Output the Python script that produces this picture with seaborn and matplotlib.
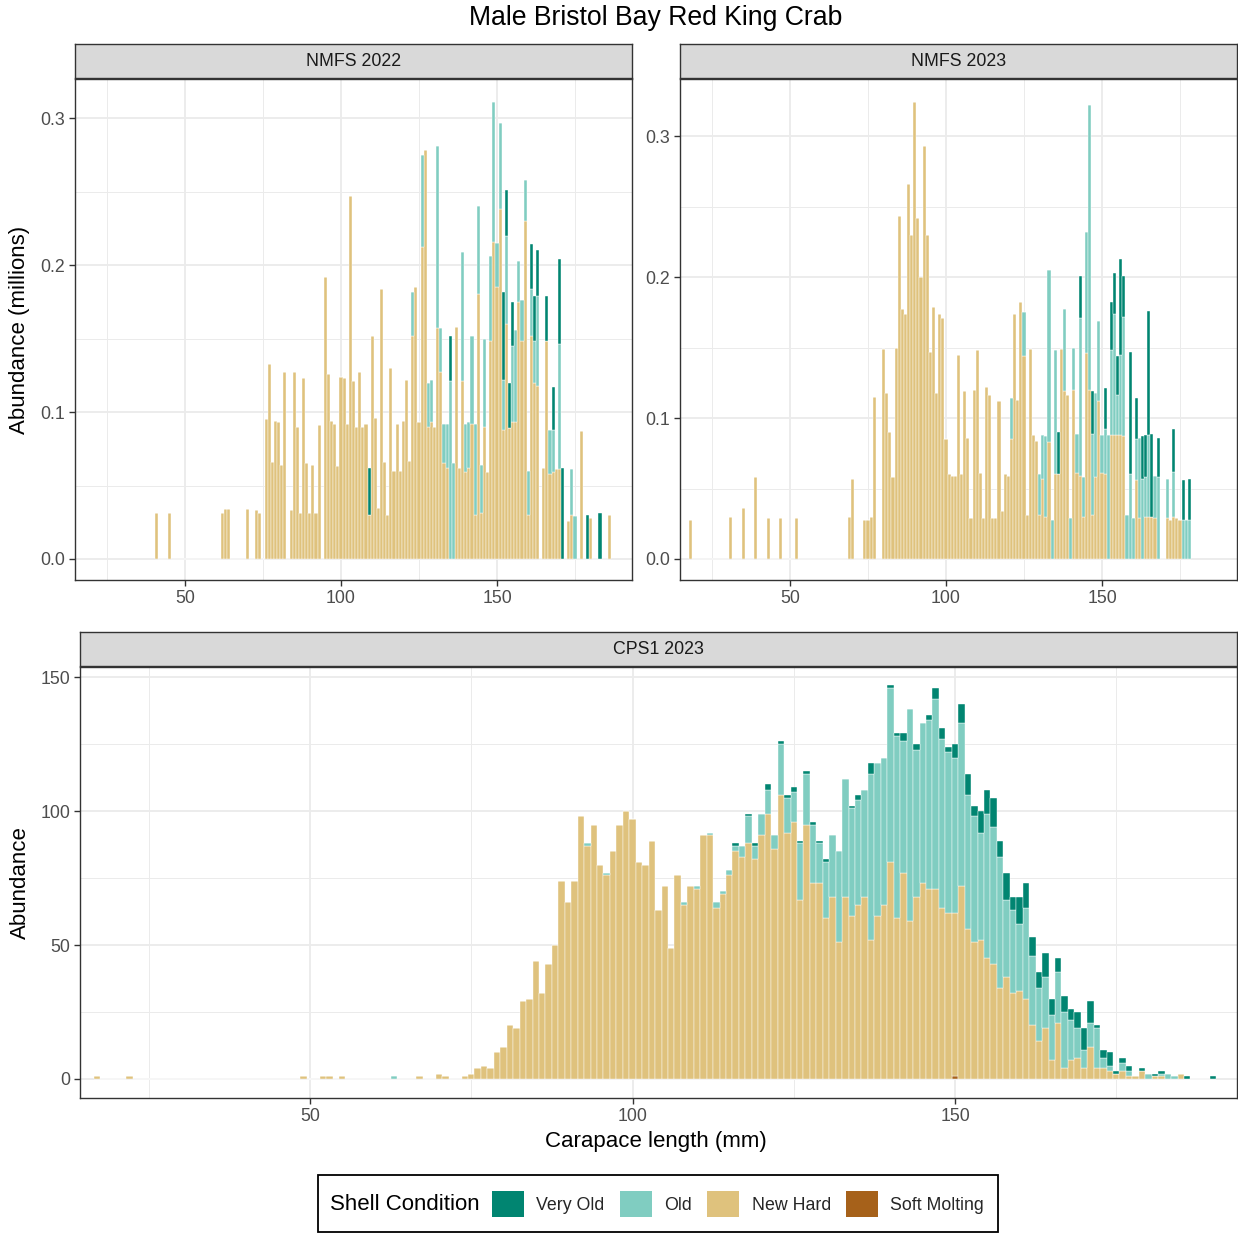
import numpy as np
import pandas as pd
import matplotlib
matplotlib.use("Agg")
import matplotlib.pyplot as plt
from matplotlib.patches import Patch, Rectangle
import seaborn as sns

# ---------------- data ----------------
conditions = ["Very Old", "Old", "New Hard", "Soft Molting"]
colors = ["#018571", "#80cdc1", "#dfc27d", "#a6611a"]

# NMFS 2022 (millions)
n22_len = [41, 45, 62, 63, 64, 70, 73, 74, 76, 77, 78, 79, 80, 81, 82, 84, 85, 86, 87, 88,
           89, 90, 91, 92, 93, 95, 96, 97, 98, 99, 100, 101, 102, 103, 104, 105, 106, 107, 108, 109,
           110, 111, 112, 113, 114, 115, 116, 117, 118, 119, 120, 121, 122, 123, 124, 125, 126, 127, 128, 129,
           130, 131, 132, 133, 134, 135, 136, 137, 138, 139, 140, 141, 142, 143, 144, 145, 146, 147, 148, 149,
           150, 151, 152, 153, 154, 155, 156, 157, 158, 159, 160, 161, 162, 163, 165, 166, 167, 168, 169, 170,
           171, 173, 174, 175, 177, 179, 180, 183, 186]
n22_new = [0.031, 0.031, 0.031, 0.034, 0.034, 0.034, 0.033, 0.031, 0.095, 0.133, 0.066, 0.094, 0.093, 0.064, 0.127, 0.033, 0.127, 0.090, 0.031, 0.123,
           0.065, 0.031, 0.064, 0.031, 0.091, 0.192, 0.126, 0.094, 0.092, 0.063, 0.124, 0.123, 0.092, 0.247, 0.121, 0.090, 0.127, 0.090, 0.092, 0.030,
           0.152, 0.096, 0.035, 0.184, 0.066, 0.030, 0.130, 0.060, 0.092, 0.060, 0.094, 0.122, 0.067, 0.152, 0.185, 0.093, 0.212, 0.278, 0.090, 0.093,
           0.090, 0.157, 0.127, 0.065, 0.062, 0.0, 0.0, 0.158, 0.062, 0.121, 0.059, 0.062, 0.092, 0.030, 0.180, 0.031, 0.090, 0.059, 0.148, 0.216,
           0.185, 0.238, 0.088, 0.160, 0.089, 0.093, 0.093, 0.175, 0.148, 0.230, 0.030, 0.152, 0.120, 0.118, 0.062, 0.148, 0.058, 0.059, 0.061, 0.061,
           0.0, 0.026, 0.030, 0.0, 0.087, 0.0, 0.028, 0.0, 0.030]
n22_old = [0, 0, 0, 0, 0, 0, 0, 0, 0, 0, 0, 0, 0, 0, 0, 0, 0, 0, 0, 0,
           0, 0, 0, 0, 0, 0, 0, 0, 0, 0, 0, 0, 0, 0, 0, 0, 0, 0, 0, 0,
           0, 0, 0, 0, 0, 0, 0, 0, 0, 0, 0, 0, 0, 0.030, 0, 0, 0.063, 0, 0.030, 0.029,
           0, 0.124, 0.030, 0.027, 0.030, 0.121, 0.065, 0, 0, 0.088, 0.033, 0.031, 0.060, 0.062, 0.060, 0.033, 0.060, 0, 0.058, 0.095,
           0.030, 0.059, 0.034, 0.060, 0, 0.052, 0.063, 0.028, 0.028, 0.028, 0.030, 0.032, 0.028, 0.061, 0, 0, 0.030, 0.029, 0, 0.085,
           0, 0, 0.031, 0.029, 0, 0, 0, 0, 0]
n22_vold = [0, 0, 0, 0, 0, 0, 0, 0, 0, 0, 0, 0, 0, 0, 0, 0, 0, 0, 0, 0,
            0, 0, 0, 0, 0, 0, 0, 0, 0, 0, 0, 0, 0, 0, 0, 0, 0, 0, 0, 0.032,
            0, 0, 0, 0, 0, 0, 0, 0, 0, 0, 0, 0, 0, 0, 0, 0, 0, 0, 0, 0,
            0, 0, 0, 0, 0, 0.031, 0, 0, 0, 0, 0, 0, 0, 0, 0, 0, 0, 0, 0, 0,
            0, 0, 0.060, 0.031, 0.031, 0.030, 0, 0, 0, 0, 0, 0.030, 0.031, 0.031, 0, 0.031, 0, 0.029, 0, 0.058,
            0.062, 0, 0, 0, 0, 0.030, 0, 0.031, 0]

# NMFS 2023 (millions)
n23_len = [18, 31, 35, 39, 43, 47, 52, 69, 70, 74, 75, 76, 77, 80, 81, 82, 83, 84, 85, 86,
           87, 88, 89, 90, 91, 92, 93, 94, 95, 96, 97, 98, 99, 100, 101, 102, 103, 104, 105, 106,
           107, 108, 109, 110, 111, 112, 113, 114, 115, 116, 117, 118, 119, 120, 121, 122, 123, 124, 125, 126,
           127, 128, 129, 130, 131, 132, 133, 134, 135, 136, 137, 138, 139, 140, 141, 142, 143, 144, 145, 146,
           147, 148, 149, 150, 151, 152, 153, 154, 155, 156, 157, 158, 159, 160, 161, 162, 163, 164, 165, 166,
           167, 168, 171, 172, 173, 174, 175, 176, 177, 178]
n23_new = [0.028, 0.030, 0.036, 0.058, 0.029, 0.029, 0.029, 0.030, 0.057, 0.028, 0.028, 0.030, 0.115, 0.149, 0.118, 0.090, 0.058, 0.150, 0.243, 0.177,
           0.174, 0.266, 0.230, 0.324, 0.242, 0.200, 0.293, 0.230, 0.147, 0.179, 0.118, 0.174, 0.171, 0.085, 0.060, 0.059, 0.059, 0.145, 0.060, 0.119,
           0.086, 0.029, 0.120, 0.148, 0.061, 0.029, 0.122, 0.116, 0.029, 0.029, 0.112, 0.034, 0.060, 0.059, 0.085, 0.174, 0.113, 0.182, 0.144, 0.031,
           0.149, 0.088, 0.084, 0.031, 0.057, 0.030, 0.083, 0.0, 0.060, 0.060, 0.149, 0.119, 0.116, 0.0, 0.120, 0.061, 0.059, 0.030, 0.146, 0.120,
           0.031, 0.058, 0.112, 0.061, 0.060, 0.0, 0.088, 0.088, 0.088, 0.088, 0.087, 0.0, 0.0, 0.0, 0.056, 0.029, 0.0, 0.030, 0.030, 0.030,
           0.029, 0.0, 0.029, 0.028, 0.030, 0.029, 0.028, 0.0, 0.0, 0.0]
n23_old = [0, 0, 0, 0, 0, 0, 0, 0, 0, 0, 0, 0, 0, 0, 0, 0, 0, 0, 0, 0,
           0, 0, 0, 0, 0, 0, 0, 0, 0, 0, 0, 0, 0, 0, 0, 0, 0, 0, 0, 0,
           0, 0, 0, 0, 0, 0, 0, 0, 0, 0, 0, 0, 0, 0, 0.029, 0, 0, 0, 0.031, 0,
           0, 0, 0, 0.029, 0.031, 0.057, 0.122, 0.028, 0.088, 0, 0, 0.058, 0, 0.029, 0.030, 0.028, 0.112, 0.028, 0.086, 0.202,
           0.058, 0.060, 0.057, 0.027, 0.032, 0.088, 0.060, 0.086, 0.028, 0.057, 0.085, 0.031, 0.060, 0.029, 0.029, 0.057, 0.057, 0.028, 0.058, 0,
           0.030, 0.058, 0.028, 0, 0.032, 0, 0, 0.028, 0.028, 0.028]
n23_vold = [0, 0, 0, 0, 0, 0, 0, 0, 0, 0, 0, 0, 0, 0, 0, 0, 0, 0, 0, 0,
            0, 0, 0, 0, 0, 0, 0, 0, 0, 0, 0, 0, 0, 0, 0, 0, 0, 0, 0, 0,
            0, 0, 0, 0, 0, 0, 0, 0, 0, 0, 0, 0, 0, 0, 0, 0, 0, 0, 0, 0,
            0, 0, 0, 0, 0, 0, 0, 0, 0, 0.030, 0, 0, 0, 0, 0, 0, 0.030, 0, 0, 0,
            0.030, 0, 0, 0, 0.029, 0, 0.034, 0.029, 0.028, 0.068, 0.029, 0, 0.087, 0, 0.029, 0, 0.030, 0.030, 0.088, 0.059,
            0, 0.028, 0, 0, 0.030, 0, 0, 0.028, 0, 0.029]

# CPS1 2023 (numbers)
cps_len = [17, 22, 49, 52, 53, 55, 63, 67, 70, 71, 74, 75, 76, 77, 78, 79, 80, 81, 82, 83,
           84, 85, 86, 87, 88, 89, 90, 91, 92, 93, 94, 95, 96, 97, 98, 99, 100, 101, 102, 103,
           104, 105, 106, 107, 108, 109, 110, 111, 112, 113, 114, 115, 116, 117, 118, 119, 120, 121, 122, 123,
           124, 125, 126, 127, 128, 129, 130, 131, 132, 133, 134, 135, 136, 137, 138, 139, 140, 141, 142, 143,
           144, 145, 146, 147, 148, 149, 150, 151, 152, 153, 154, 155, 156, 157, 158, 159, 160, 161, 162, 163,
           164, 165, 166, 167, 168, 169, 170, 171, 172, 173, 174, 175, 176, 177, 178, 179, 180, 181, 182, 183,
           184, 185, 186, 190]
cps_new = [1, 1, 1, 1, 1, 1, 0, 1, 2, 1, 1, 2, 4, 5, 4, 10, 12, 20, 19, 29,
           30, 44, 32, 43, 50, 74, 66, 74, 98, 87, 95, 80, 76, 85, 95, 100, 97, 81, 80, 89,
           63, 72, 49, 76, 65, 72, 71, 91, 91, 64, 69, 76, 85, 83, 88, 82, 91, 99, 86, 106,
           92, 96, 67, 95, 73, 73, 60, 68, 51, 68, 61, 65, 68, 52, 61, 65, 81, 60, 77, 59,
           68, 73, 71, 71, 64, 62, 61, 72, 56, 51, 52, 45, 43, 34, 38, 32, 33, 30, 20, 14,
           19, 7, 21, 4, 7, 8, 4, 12, 4, 4, 3, 2, 3, 1, 1, 3, 0, 1, 1, 0,
           0, 2, 0, 0]
cps_old = [0, 0, 0, 0, 0, 0, 1, 0, 0, 0, 0, 0, 0, 0, 0, 0, 0, 0, 0, 0,
           0, 0, 0, 0, 0, 0, 0, 0, 0, 1, 0, 0, 1, 0, 0, 0, 0, 0, 0, 0,
           0, 0, 0, 0, 1, 0, 1, 0, 1, 2, 1, 2, 2, 4, 10, 5, 8, 9, 5, 19,
           13, 11, 21, 19, 22, 15, 21, 23, 34, 44, 40, 39, 40, 62, 57, 55, 65, 68, 49, 79,
           55, 60, 63, 71, 63, 60, 58, 61, 50, 47, 40, 54, 51, 49, 29, 31, 25, 34, 26, 20,
           19, 17, 19, 21, 15, 11, 7, 9, 15, 4, 2, 0, 3, 2, 0, 0, 2, 0, 1, 2,
           1, 0, 0, 0]
cps_vold = [0, 0, 0, 0, 0, 0, 0, 0, 0, 0, 0, 0, 0, 0, 0, 0, 0, 0, 0, 0,
            0, 0, 0, 0, 0, 0, 0, 0, 0, 0, 0, 0, 0, 0, 0, 0, 0, 0, 0, 0,
            0, 0, 0, 0, 0, 0, 0, 0, 0, 0, 0, 0, 1, 0, 1, 1, 0, 2, 0, 1,
            1, 2, 1, 1, 1, 1, 1, 0, 0, 0, 1, 2, 0, 4, 0, 0, 1, 1, 3, 0,
            2, 0, 2, 4, 4, 2, 5, 7, 8, 4, 8, 9, 11, 6, 10, 5, 10, 9, 7, 6,
            9, 6, 5, 6, 4, 6, 8, 8, 1, 3, 5, 1, 2, 2, 0, 1, 0, 1, 1, 0,
            0, 0, 1, 1]
cps_soft_len = [150]
cps_soft = [1]

panel_titles = ["NMFS 2022", "NMFS 2023", "CPS1 2023"]
main_title = "Male Bristol Bay Red King Crab"


def long_frame(lengths, series):
    parts = []
    for cond, (lens, vals) in series.items():
        d = pd.DataFrame({"length": lens, "abund": vals, "cond": cond})
        parts.append(d[d["abund"] > 0])
    return pd.concat(parts, ignore_index=True)


df22 = long_frame(n22_len, {"Very Old": (n22_len, n22_vold), "Old": (n22_len, n22_old),
                            "New Hard": (n22_len, n22_new)})
df23 = long_frame(n23_len, {"Very Old": (n23_len, n23_vold), "Old": (n23_len, n23_old),
                            "New Hard": (n23_len, n23_new)})
dfc = long_frame(cps_len, {"Very Old": (cps_len, cps_vold), "Old": (cps_len, cps_old),
                           "New Hard": (cps_len, cps_new), "Soft Molting": (cps_soft_len, cps_soft)})

# ---------------- styling ----------------
sns.set_theme(style="white")
plt.rcParams["font.family"] = ["Liberation Sans", "DejaVu Sans"]

W, H = 1238, 1234
fig = plt.figure(figsize=(W / 100, H / 100), dpi=100)
fig.patch.set_facecolor("white")


def rect(x0, y0, x1, y1):
    return [x0 / W, 1 - y1 / H, (x1 - x0) / W, (y1 - y0) / H]


pal = dict(zip(conditions, colors))
TICK_FS = 12.8
DARK = "#333333"


def style_axes(ax, xlim, ylim, yticks, ylabels, yminor):
    ax.set_xlim(*xlim)
    ax.set_ylim(*ylim)
    ax.set_xticks([50, 100, 150])
    ax.set_xticks([25, 75, 125, 175], minor=True)
    ax.set_yticks(yticks)
    ax.set_yticklabels(ylabels)
    ax.set_yticks(yminor, minor=True)
    ax.grid(which="major", color="#EBEBEB", linewidth=1.3)
    ax.grid(which="minor", color="#EBEBEB", linewidth=0.7)
    ax.set_axisbelow(True)
    for s in ax.spines.values():
        s.set_color(DARK)
        s.set_linewidth(1.0)
    ax.tick_params(which="major", direction="out", length=4, width=1.0, color=DARK,
                   labelsize=TICK_FS, labelcolor="#4D4D4D", pad=3,
                   left=True, bottom=True)
    ax.tick_params(which="minor", length=0)
    ax.set_xlabel("")
    ax.set_ylabel("")


def strip(r, text):
    sa = fig.add_axes(r)
    sa.set_facecolor("#D9D9D9")
    sa.set_xticks([])
    sa.set_yticks([])
    for s in sa.spines.values():
        s.set_color(DARK)
        s.set_linewidth(1.0)
    sa.text(0.5, 0.5, text, ha="center", va="center", fontsize=TICK_FS, color="#1A1A1A",
            transform=sa.transAxes)


def hist(ax, df):
    sns.histplot(data=df, x="length", weights="abund", hue="cond", hue_order=conditions,
                 palette=pal, multiple="stack", discrete=True, shrink=1, ax=ax,
                 legend=False, edgecolor="white", linewidth=0.3, alpha=1)


ax1 = fig.add_axes(rect(75, 79, 632, 580))
hist(ax1, df22)
style_axes(ax1, (14.74, 193.27), (-0.0143, 0.3266), [0, 0.1, 0.2, 0.3],
           ["0.0", "0.1", "0.2", "0.3"], [0.05, 0.15, 0.25])
strip(rect(75, 44, 632, 78), panel_titles[0])

ax2 = fig.add_axes(rect(680, 79, 1237, 580))
hist(ax2, df23)
style_axes(ax2, (14.74, 193.27), (-0.0149, 0.3405), [0, 0.1, 0.2, 0.3],
           ["0.0", "0.1", "0.2", "0.3"], [0.05, 0.15, 0.25])
strip(rect(680, 44, 1237, 78), panel_titles[1])

ax3 = fig.add_axes(rect(80, 667, 1237, 1098))
hist(ax3, dfc)
style_axes(ax3, (14.34, 193.72), (-7.1, 153.8), [0, 50, 100, 150],
           ["0", "50", "100", "150"], [25, 75, 125])
strip(rect(80, 632, 1237, 666), panel_titles[2])

# axis titles
fig.text(20 / W, 1 - 330 / H, "Abundance (millions)", rotation=90, ha="center", va="center",
         fontsize=16, color="black")
fig.text(20 / W, 1 - 883 / H, "Abundance", rotation=90, ha="center", va="center",
         fontsize=16, color="black")
fig.text(656 / W, 1 - 1141 / H, "Carapace length (mm)", ha="center", va="center",
         fontsize=16, color="black")
fig.text(656 / W, 1 - 18 / H, main_title, ha="center", va="center", fontsize=19.2, color="black")

# legend
fig.patches.append(Rectangle((318 / W, 1 - 1232 / H), 680 / W, 57 / H, transform=fig.transFigure,
                             facecolor="white", edgecolor="black", linewidth=1.3, zorder=0))
fig.text(330 / W, 1 - 1204 / H, "Shell Condition", ha="left", va="center", fontsize=16, color="black")
handles = [Patch(facecolor=c, edgecolor="none") for c in colors]
fig.legend(handles, conditions, ncol=4, loc="center left", bbox_to_anchor=(492 / W, 1 - 1204 / H),
           frameon=False, fontsize=TICK_FS, handlelength=1.8, handleheight=1.8,
           handletextpad=0.7, columnspacing=0.85, borderpad=0, borderaxespad=0)

fig.savefig("out.png", dpi=100, facecolor="white")
